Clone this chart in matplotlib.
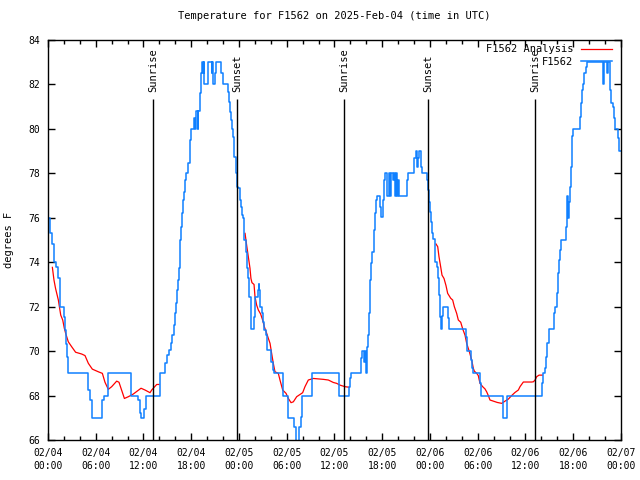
import matplotlib
matplotlib.use("Agg")
import matplotlib.pyplot as plt
import matplotlib.dates as mdates
import pandas as pd

# hours since 2025-02-04 00:00 UTC, value holds until the next step
obs_hours = [0.0, 0.2, 0.45, 0.7, 1.0, 1.2, 1.45, 1.55, 1.95, 2.15, 2.3, 2.45, 2.55,
             5.07, 5.25, 5.53, 6.74, 7.04, 7.58, 10.39, 11.35, 11.5, 11.69, 12.02, 12.36,
             14.05, 14.7, 15.0, 15.25, 15.46, 15.63, 15.83, 16.0, 16.12, 16.25, 16.38, 16.5,
             16.63, 16.75, 16.88, 17.0, 17.13, 17.25, 17.38, 17.63, 17.84, 17.93, 18.35, 18.5,
             18.55, 18.8, 18.85, 19.1, 19.23, 19.39, 19.5, 19.55, 19.64, 20.15, 20.57, 20.65,
             20.78, 20.95, 21.11, 21.7, 21.95, 22.66, 22.75, 22.87, 23.0, 23.08, 23.2, 23.37,
             23.62, 23.79, 23.92, 24.13, 24.25, 24.38, 24.46, 24.67, 24.84, 24.96, 25.17, 25.3,
             25.47, 25.89, 26.01, 26.39, 26.47, 26.56, 26.64, 26.85, 27.02, 27.18, 27.39, 27.56,
             28.06, 28.27, 28.44, 29.57, 30.2, 30.95, 31.16, 31.58, 31.75, 31.96, 33.17, 36.53,
             36.61, 37.87, 37.95, 38.07, 38.24, 39.37, 39.5, 39.71, 39.79, 39.92, 40.04, 40.21,
             40.34, 40.46, 40.59, 40.76, 40.92, 41.05, 41.22, 41.38, 41.72, 41.84, 42.05, 42.22,
             42.39, 42.64, 42.8, 42.98, 43.1, 43.39, 43.5, 43.6, 43.75, 43.9, 44.0, 44.1,
             45.07, 45.2, 45.99, 46.2, 46.41, 46.54, 46.66, 46.83, 46.96, 47.67, 47.79, 47.92,
             48.04, 48.17, 48.3, 48.42, 48.67, 48.92, 49.05, 49.13, 49.26, 49.38, 49.51, 49.64,
             50.22, 50.35, 52.48, 52.61, 53.15, 53.32, 53.45, 54.28, 54.41, 57.13, 57.22, 57.64,
             57.72, 62.08, 62.24, 62.45, 62.58, 62.75, 62.91, 63.63, 63.75, 63.92, 64.09, 64.25,
             64.38, 64.51, 65.13, 65.22, 65.34, 65.47, 65.6, 65.72, 65.85, 66.01, 66.89, 67.02,
             67.14, 67.27, 67.39, 67.56, 67.69, 69.7, 69.87, 70.2, 70.33, 70.62, 70.79, 70.96,
             71.08, 71.25, 71.59, 71.76, 72.0]
obs_temps = [76.0, 75.3, 74.8, 74.0, 73.8, 73.3, 72.3, 72.0, 71.55, 70.95, 70.3, 69.75, 69.0,
             68.25, 67.8, 67.0, 67.8, 68.0, 69.0, 68.0, 67.8, 67.2, 67.0, 67.4, 68.0,
             69.0, 69.45, 69.82, 70.05, 70.35, 70.72, 71.17, 71.7, 72.15, 72.75, 73.2, 73.73,
             75.0, 75.6, 76.2, 76.8, 77.17, 77.7, 78.0, 78.45, 79.5, 80.0, 80.5, 80.0,
             80.8, 80.0, 80.8, 81.6, 82.5, 83.0, 82.5, 83.0, 82.0, 83.0, 82.5, 83.0,
             82.0, 82.5, 83.0, 82.5, 82.0, 81.67, 81.22, 80.77, 80.4, 80.0, 79.65, 78.75,
             78.0, 77.4, 77.33, 76.8, 76.5, 76.12, 76.0, 75.0, 74.47, 73.73, 73.27, 72.45,
             71.0, 71.55, 72.45, 72.75, 73.0, 72.75, 72.0, 71.7, 71.32, 70.95, 70.72, 70.05,
             69.52, 69.15, 69.0, 68.0, 67.0, 66.6, 65.8, 66.6, 67.05, 68.0, 69.0, 68.55,
             68.0, 68.4, 68.77, 69.0, 69.0, 69.67, 70.0, 69.5, 70.0, 69.0, 70.2, 70.72,
             71.7, 73.2, 73.95, 74.47, 75.45, 76.2, 76.8, 77.0, 76.5, 76.05, 76.8, 77.7,
             78.0, 77.0, 78.0, 77.0, 78.0, 77.7, 78.0, 77.0, 78.0, 77.0, 77.7, 77.0,
             77.7, 78.0, 78.67, 79.0, 78.3, 78.67, 79.0, 78.3, 78.0, 77.7, 77.25, 76.72,
             76.27, 75.82, 75.3, 75.03, 74.0, 73.8, 73.27, 72.52, 71.55, 71.0, 71.6, 72.0,
             71.5, 71.0, 70.65, 70.0, 69.6, 69.22, 69.0, 68.55, 68.0, 67.5, 67.0, 67.6,
             68.0, 68.55, 69.0, 69.22, 69.75, 70.35, 71.0, 71.7, 72.0, 72.6, 73.5, 74.1,
             74.55, 75.0, 75.6, 77.0, 76.0, 76.7, 77.4, 78.3, 79.7, 80.0, 80.55, 81.15,
             81.75, 82.0, 82.5, 82.8, 83.0, 82.0, 83.0, 82.5, 83.0, 81.75, 81.15, 81.0,
             80.5, 80.0, 79.6, 79.0, 79.0]

# analysis curve, one list per night
ana_hours_1 = [0.55, 0.75, 0.95, 1.3, 1.6, 1.85, 2.05, 2.22, 2.55, 2.97, 3.47, 4.23, 4.65,
               5.07, 5.57, 6.33, 6.83, 7.16, 7.58, 8.0, 8.63, 8.92, 9.6, 10.1, 10.72, 11.69,
               12.19, 12.82, 13.03, 13.66, 13.95]
ana_temps_1 = [73.77, 73.2, 72.82, 72.3, 71.62, 71.4, 71.03, 70.8, 70.42, 70.2, 69.95, 69.87, 69.8,
               69.45, 69.19, 69.07, 69.0, 68.6, 68.28, 68.4, 68.65, 68.6, 67.87, 67.95, 68.07, 68.33,
               68.25, 68.13, 68.25, 68.5, 68.5]
ana_hours_2 = [24.76, 24.96, 25.17, 25.38, 25.5, 25.63, 25.89, 26.01, 26.22, 26.43, 26.72, 26.97,
               27.18, 27.48, 27.69, 27.9, 28.1, 28.31, 28.52, 28.94, 29.15, 29.49, 29.91, 30.2,
               30.54, 30.83, 31.25, 31.67, 32.0, 32.29, 32.71, 33.34, 33.97, 34.6, 35.23, 35.85,
               36.27, 36.69, 37.32, 37.74]
ana_temps_2 = [75.3, 74.77, 74.25, 73.73, 73.27, 73.08, 73.0, 72.45, 72.07, 71.85, 71.67, 71.4,
               71.1, 70.8, 70.57, 70.35, 69.9, 69.45, 69.07, 69.0, 68.7, 68.25, 68.1, 67.87,
               67.68, 67.72, 67.95, 68.05, 68.13, 68.4, 68.7, 68.77, 68.75, 68.73, 68.7, 68.59,
               68.55, 68.47, 68.4, 68.38]
ana_hours_3 = [48.76, 48.97, 49.13, 49.34, 49.51, 49.76, 50.01, 50.22, 50.6, 50.85, 51.06, 51.35,
               51.56, 51.86, 52.11, 52.4, 52.61, 52.95, 53.24, 53.45, 53.57, 53.87, 54.07, 54.28,
               54.62, 54.91, 55.12, 55.33, 55.54, 55.96, 56.46, 57.01, 57.43, 57.84, 58.26, 58.68,
               59.1, 59.31, 59.73, 60.15, 60.78, 60.99, 61.2, 61.41, 61.7, 62.1]
ana_temps_3 = [74.82, 74.7, 74.25, 73.8, 73.42, 73.27, 72.95, 72.6, 72.38, 72.3, 72.0, 71.7,
               71.4, 71.3, 71.0, 70.72, 70.35, 69.97, 69.6, 69.22, 69.1, 69.0, 68.9, 68.55,
               68.4, 68.3, 68.17, 68.0, 67.8, 67.75, 67.69, 67.65, 67.75, 67.84, 68.0, 68.14,
               68.25, 68.4, 68.61, 68.61, 68.61, 68.62, 68.7, 68.85, 68.92, 68.92]

event_hours = [13.2, 23.75, 37.2, 47.8, 61.2]
event_labels = ["Sunrise", "Sunset", "Sunrise", "Sunset", "Sunrise"]

start = pd.Timestamp("2025-02-04 00:00")


def to_time(hours):
    return (start + pd.to_timedelta(pd.Series(hours, dtype=float), unit="h")).to_numpy()


plt.rcParams["font.family"] = ["DejaVu Sans Mono"]
plt.rcParams["font.size"] = 7

fig = plt.figure(figsize=(6.4, 4.8), dpi=100)
ax = fig.add_axes([0.075, 0.0833, 0.8953, 0.8333])

red = "#ff0000"
blue = "#1080ff"
nights = [(ana_hours_1, ana_temps_1), (ana_hours_2, ana_temps_2), (ana_hours_3, ana_temps_3)]
for i, (hh, tt) in enumerate(nights):
    ax.plot(to_time(hh), tt, color=red, lw=0.9, label="F1562 Analysis" if i == 0 else None)
ax.plot(to_time(obs_hours), obs_temps, color=blue, lw=1.1, drawstyle="steps-post",
        label="F1562")

for h, lab in zip(event_hours, event_labels):
    t = start + pd.Timedelta(hours=h)
    ax.vlines(t, 66, 81.35, color="black", lw=1)
    ax.text(t, 81.65, lab, rotation=90, ha="center", va="bottom", fontsize=7.5)

ax.set_xlim(start, start + pd.Timedelta(hours=72))
ax.set_ylim(66, 84)
ax.set_yticks(range(66, 85, 2))
ax.xaxis.set_major_locator(mdates.HourLocator(byhour=[0, 6, 12, 18]))
ax.xaxis.set_minor_locator(mdates.HourLocator(interval=2))
ax.xaxis.set_major_formatter(mdates.DateFormatter("%m/%d\n%H:%M"))
ax.tick_params(which="both", direction="in", top=True, right=True, width=1)
ax.tick_params(which="major", length=5)
ax.tick_params(which="minor", length=3)
ax.tick_params(axis="x", which="major", pad=6)
ax.tick_params(axis="y", pad=6)
for lbl in ax.get_xticklabels():
    lbl.set_linespacing(1.3)

ax.set_ylabel("degrees F", fontsize=7.5, labelpad=10)
ax.set_title("Temperature for F1562 on 2025-Feb-04 (time in UTC)", fontsize=7.5, pad=15)

ax.legend(loc="upper right", bbox_to_anchor=(0.995, 1.005), frameon=False, markerfirst=False,
          handlelength=3.0, handletextpad=0.7, labelspacing=0.25, fontsize=7.5,
          borderaxespad=0.2)

for s in ax.spines.values():
    s.set_linewidth(1)

fig.savefig("out.png", dpi=100)
